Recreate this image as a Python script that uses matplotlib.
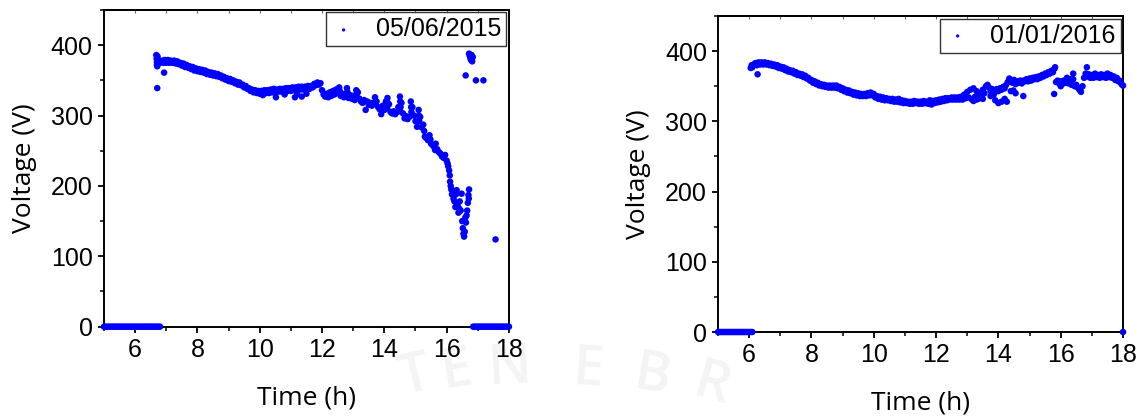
import matplotlib
matplotlib.use('Agg')
import matplotlib.pyplot as plt
from matplotlib.ticker import MultipleLocator

# ---- 05/06/2015 ----
# inverter off before sunrise
t15_night_am = [5.00, 5.05, 5.10, 5.15, 5.20, 5.25, 5.30, 5.35, 5.40, 5.45,
                5.50, 5.55, 5.60, 5.65, 5.70, 5.75, 5.80, 5.85, 5.90, 5.95,
                6.00, 6.05, 6.10, 6.15, 6.20, 6.25, 6.30, 6.35, 6.40, 6.45,
                6.50, 6.55, 6.60, 6.65, 6.70, 6.75, 6.80]
v15_night_am = [0, 0, 0, 0, 0, 0, 0, 0, 0, 0,
                0, 0, 0, 0, 0, 0, 0, 0, 0, 0,
                0, 0, 0, 0, 0, 0, 0, 0, 0, 0,
                0, 0, 0, 0, 0, 0, 0]

# start-up
t15_start = [6.68, 6.69, 6.70, 6.70, 6.71, 6.72, 6.73, 6.74, 6.71, 6.93]
v15_start = [386, 381, 376, 372, 370, 384, 379, 374, 339, 361]

# morning / midday
t15_day = [6.75, 6.80, 6.85, 6.90, 6.95, 7.00, 7.05, 7.10, 7.15, 7.20,
           7.25, 7.30, 7.35, 7.40, 7.45, 7.50, 7.55, 7.60, 7.65, 7.70,
           7.75, 7.80, 7.85, 7.90, 7.95, 8.00, 8.05, 8.10, 8.15, 8.20,
           8.25, 8.30, 8.35, 8.40, 8.45, 8.50, 8.55, 8.60, 8.65, 8.70,
           8.75, 8.80, 8.85, 8.90, 8.95, 9.00, 9.05, 9.10, 9.15, 9.20,
           9.25, 9.30, 9.35, 9.40, 9.45, 9.50, 9.55, 9.60, 9.65, 9.70,
           9.75, 9.80, 9.85, 9.90, 9.95, 10.00, 10.05, 10.10, 10.15, 10.20,
           10.25, 10.30, 10.35, 10.40, 10.45, 10.50, 10.55, 10.60, 10.65, 10.70,
           10.75, 10.80, 10.85, 10.90, 10.95, 11.00, 11.05, 11.10, 11.15, 11.20,
           11.25, 11.30, 11.35, 11.40, 11.45, 11.50, 11.55, 11.60, 11.65, 11.70,
           11.75, 11.80, 11.85, 11.90, 11.95]
v15_day = [378, 375, 378, 375, 379, 375, 379, 375, 378, 375,
           378, 374, 377, 373, 375, 371, 374, 369, 372, 368,
           370, 366, 369, 364, 367, 363, 366, 362, 365, 361,
           364, 359, 362, 358, 361, 357, 360, 356, 359, 355,
           357, 353, 355, 351, 353, 349, 352, 348, 350, 346,
           348, 344, 347, 343, 344, 340, 342, 338, 339, 335,
           337, 333, 336, 332, 335, 331, 335, 331, 336, 332,
           336, 332, 337, 333, 338, 333, 337, 334, 338, 334,
           338, 335, 339, 335, 339, 335, 340, 336, 340, 336,
           341, 337, 341, 337, 341, 338, 342, 338, 342, 340,
           345, 343, 347, 344, 346]
t15_low = [10.10, 10.52, 10.80, 11.13, 11.35, 11.50, 11.20]
v15_low = [329, 326, 330, 326, 327, 331, 330]

# afternoon, cloud transients
t15_pm = [12.00, 12.05, 12.10, 12.15, 12.20, 12.25, 12.30, 12.35, 12.40, 12.45,
          12.50, 12.55, 12.60, 12.65, 12.70, 12.75, 12.80, 12.85, 12.90, 12.95,
          13.00, 13.05, 13.10, 13.15, 13.20, 13.25, 13.30, 13.35, 13.40, 13.45,
          13.50, 13.55, 13.60, 13.65, 13.70, 13.75, 13.80, 13.85, 13.90, 13.95,
          14.00, 14.05, 14.10, 14.15, 14.20, 14.25, 14.30, 14.35, 14.40, 14.45,
          14.50, 14.55, 14.60, 14.65, 14.70, 14.75, 14.80, 14.85, 14.90, 14.95,
          15.00, 15.05, 15.10, 15.15, 15.20,
          12.56, 12.81, 13.11, 13.71, 14.11, 14.51, 14.52, 14.86, 14.87, 15.11,
          15.12, 14.51, 14.09]
v15_pm = [336, 330, 327, 331, 326, 333, 328, 335, 330, 337,
          332, 340, 328, 331, 326, 330, 339, 325, 329, 324,
          328, 322, 336, 333, 324, 320, 318, 322, 308, 320,
          315, 318, 314, 317, 326, 320, 312, 309, 302, 314,
          308, 320, 325, 316, 305, 303, 306, 302, 305, 312,
          327, 318, 303, 296, 299, 295, 298, 320, 312, 300,
          292, 284, 308, 298, 283,
          336, 334, 330, 320, 318, 320, 312, 312, 305, 300,
          292, 306, 310]

# evening drop
t15_eve = [15.25, 15.28, 15.30, 15.35, 15.40, 15.45, 15.48, 15.50, 15.55, 15.60,
           15.63, 15.65, 15.70, 15.75, 15.80, 15.85, 15.90, 15.95, 16.00, 16.03,
           16.05, 16.08, 16.10, 16.11, 16.13, 16.15, 16.17, 16.20, 16.22, 16.25,
           16.28, 16.30, 16.32, 16.35, 16.38, 16.40, 16.42, 16.45, 16.48, 16.50,
           16.52, 16.54, 16.56, 16.58, 16.60, 16.62, 16.64, 16.66, 16.68, 16.70,
           16.72, 16.71]
v15_eve = [287, 278, 270, 268, 265, 272, 266, 260, 258, 255,
           251, 260, 252, 248, 246, 242, 240, 244, 236, 232,
           228, 222, 215, 206, 200, 195, 188, 192, 182, 178,
           170, 188, 194, 172, 162, 168, 178, 165, 189, 150,
           140, 132, 128, 135, 155, 148, 158, 165, 176, 187,
           195, 182]

# open-circuit spikes at shutdown
t15_spike = [16.72, 16.74, 16.76, 16.78, 16.80, 16.82, 16.84, 16.61, 16.94, 17.18, 17.57]
v15_spike = [388, 385, 382, 379, 386, 377, 383, 357, 350, 350, 124]

t15_night_pm = [16.85, 16.90, 16.95, 17.00, 17.05, 17.10, 17.15, 17.20, 17.25, 17.30,
                17.35, 17.40, 17.45, 17.50, 17.55, 17.60, 17.65, 17.70, 17.75, 17.80,
                17.85, 17.90, 17.95, 18.00]
v15_night_pm = [0, 0, 0, 0, 0, 0, 0, 0, 0, 0,
                0, 0, 0, 0, 0, 0, 0, 0, 0, 0,
                0, 0, 0, 0]

# ---- 01/01/2016 ----
t16_night = [5.00, 5.05, 5.10, 5.15, 5.20, 5.25, 5.30, 5.35, 5.40, 5.45,
             5.50, 5.55, 5.60, 5.65, 5.70, 5.75, 5.80, 5.85, 5.90, 5.95,
             6.00, 6.05, 6.10, 18.00]
v16_night = [0, 0, 0, 0, 0, 0, 0, 0, 0, 0,
             0, 0, 0, 0, 0, 0, 0, 0, 0, 0,
             0, 0, 0, 0]

t16_start = [6.05, 6.08, 6.10, 6.27]
v16_start = [376, 380, 377, 367]

t16_day = [6.15, 6.20, 6.25, 6.30, 6.35, 6.40, 6.45, 6.50, 6.55, 6.60,
           6.65, 6.70, 6.75, 6.80, 6.85, 6.90, 6.95, 7.00, 7.05, 7.10,
           7.15, 7.20, 7.25, 7.30, 7.35, 7.40, 7.45, 7.50, 7.55, 7.60,
           7.65, 7.70, 7.75, 7.80, 7.85, 7.90, 7.95, 8.00, 8.05, 8.10,
           8.15, 8.20, 8.25, 8.30, 8.35, 8.40, 8.45, 8.50, 8.55, 8.60,
           8.65, 8.70, 8.75, 8.80, 8.85, 8.90, 8.95, 9.00, 9.05, 9.10,
           9.15, 9.20, 9.25, 9.30, 9.35, 9.40, 9.45, 9.50, 9.55, 9.60,
           9.65, 9.70, 9.75, 9.80, 9.85, 9.90, 9.95, 10.00, 10.05, 10.10,
           10.15, 10.20, 10.25, 10.30, 10.35, 10.40, 10.45, 10.50, 10.55, 10.60,
           10.65, 10.70, 10.75, 10.80, 10.85, 10.90, 10.95, 11.00, 11.05, 11.10,
           11.15, 11.20, 11.25, 11.30, 11.35, 11.40, 11.45, 11.50, 11.55, 11.60,
           11.65, 11.70, 11.75, 11.80, 11.85, 11.90, 11.95, 12.00, 12.05, 12.10,
           12.15, 12.20, 12.25, 12.30, 12.35, 12.40, 12.45, 12.50, 12.55, 12.60,
           12.65, 12.70, 12.75, 12.80, 12.85, 12.90, 12.95, 13.00, 13.05, 13.10,
           13.15, 13.20, 13.25, 13.30, 13.35, 13.40, 13.45, 13.50, 13.55, 13.60,
           13.65, 13.70, 13.75, 13.80, 13.85, 13.90, 13.95, 14.00, 14.05, 14.10,
           14.15, 14.20, 14.25, 14.30, 14.35, 14.40, 14.45, 14.50, 14.55, 14.60,
           14.65, 14.70, 14.75, 14.80, 14.85, 14.90, 14.95, 15.00, 15.05, 15.10,
           15.15, 15.20, 15.25, 15.30, 15.35, 15.40, 15.45, 15.50, 15.55, 15.60,
           15.65, 15.70, 15.75, 15.80, 15.82, 15.85, 15.90, 15.95, 16.00, 16.05,
           16.10, 16.15, 16.20, 16.25, 16.30, 16.35, 16.40, 16.45, 16.50, 16.55,
           16.60, 16.65, 16.70, 16.75, 16.80, 16.84, 16.85, 16.90, 16.95, 17.00,
           17.05, 17.10, 17.15, 17.20, 17.25, 17.30, 17.35, 17.40, 17.45, 17.50,
           17.55, 17.60, 17.65, 17.70, 17.75, 17.80, 17.85, 17.90, 17.95, 18.00]
v16_day = [381, 383, 380, 384, 381, 384, 381, 384, 381, 383,
           380, 382, 379, 381, 378, 380, 376, 378, 375, 377,
           373, 375, 371, 373, 370, 372, 368, 370, 366, 368,
           365, 367, 363, 365, 361, 362, 358, 359, 355, 357,
           353, 355, 351, 353, 350, 352, 349, 351, 348, 351,
           348, 351, 348, 351, 347, 349, 345, 347, 343, 345,
           341, 344, 340, 342, 338, 341, 337, 340, 336, 339,
           336, 339, 336, 340, 337, 341, 337, 339, 334, 336,
           332, 335, 331, 334, 330, 333, 330, 332, 329, 332,
           328, 331, 328, 332, 327, 330, 326, 329, 326, 328,
           325, 328, 325, 329, 326, 328, 325, 328, 325, 329,
           326, 328, 325, 330, 324, 329, 326, 330, 327, 331,
           328, 332, 329, 333, 330, 333, 331, 334, 331, 334,
           331, 334, 331, 335, 331, 338, 333, 342, 334, 345,
           331, 347, 335, 343, 332, 340, 336, 345, 340, 350,
           352, 348, 343, 346, 338, 342, 346, 343, 347, 345,
           349, 347, 352, 356, 361, 358, 355, 359, 353, 357,
           355, 358, 354, 358, 357, 360, 357, 361, 358, 362,
           360, 363, 360, 364, 362, 366, 364, 368, 366, 370,
           368, 372, 370, 375, 377, 356, 358, 354, 357, 353,
           358, 355, 362, 354, 360, 352, 368, 350, 352, 348,
           345, 342, 350, 362, 368, 377, 364, 367, 362, 366,
           362, 368, 363, 366, 362, 367, 363, 366, 362, 368,
           363, 366, 362, 364, 359, 362, 357, 358, 353, 351]
t16_low = [13.20, 13.30, 13.50, 13.75, 13.90, 14.00, 14.10, 14.27, 14.20,
           14.48, 14.55, 14.80, 15.79, 16.62, 16.00, 16.40, 14.40]
v16_low = [329, 331, 332, 336, 330, 326, 328, 328, 332,
           344, 340, 336, 339, 345, 350, 360, 343]

t_2015 = (t15_night_am + t15_start + t15_day + t15_low + t15_pm + t15_eve
          + t15_spike + t15_night_pm)
v_2015 = (v15_night_am + v15_start + v15_day + v15_low + v15_pm + v15_eve
          + v15_spike + v15_night_pm)
t_2016 = t16_night + t16_start + t16_day + t16_low
v_2016 = v16_night + v16_start + v16_day + v16_low

panels = [(t_2015, v_2015, '05/06/2015'), (t_2016, v_2016, '01/01/2016')]
positions = [[0.0908, 0.2147, 0.3537, 0.7613], [0.6271, 0.2019, 0.3537, 0.7596]]

tick_font = 'Liberation Sans'
label_font = 'Open Sans'

fig = plt.figure(figsize=(11.45, 4.16), dpi=100)

# faint seal lettering behind the plots
wm_letters = ['T', 'E', 'N', 'E', 'B', 'R']
wm_x = [415, 457, 510, 588, 652, 712]
wm_y = [378, 372, 369, 371, 377, 386]
wm_rot = [14, 9, 3, -4, -10, -16]
for ch, x, y, r in zip(wm_letters, wm_x, wm_y, wm_rot):
    fig.text(x / 1145, 1 - y / 416, ch, fontsize=40, family=label_font,
             fontweight='semibold', color='#f4f4f4', rotation=r,
             ha='center', va='center', zorder=-5)

for (t, v, lab), pos in zip(panels, positions):
    ax = fig.add_axes(pos)
    ax.scatter(t, v, s=22, color='#0000ff', edgecolors='none', label=lab,
               clip_on=False, zorder=3)
    ax.set_xlim(5, 18)
    ax.set_ylim(0, 450)
    ax.xaxis.set_major_locator(MultipleLocator(2))
    ax.xaxis.set_minor_locator(MultipleLocator(1))
    ax.yaxis.set_major_locator(MultipleLocator(100))
    ax.yaxis.set_minor_locator(MultipleLocator(50))
    ax.tick_params(which='major', direction='out', length=4, width=1.3,
                   labelsize=18, pad=4)
    ax.tick_params(which='minor', direction='out', length=3, width=1.1)
    for lbl in ax.get_xticklabels() + ax.get_yticklabels():
        lbl.set_family(tick_font)
    for sp in ax.spines.values():
        sp.set_linewidth(1.4)
    top = ax.secondary_xaxis('top')
    top.xaxis.set_major_locator(MultipleLocator(1))
    top.tick_params(direction='in', length=2, width=0.8, color='#666666',
                    labeltop=False)
    top.spines['top'].set_linewidth(1.4)

    ax.set_xlabel('Time (h)', fontsize=19, family=label_font, labelpad=17)
    ax.set_ylabel('Voltage (V)', fontsize=19, family=label_font, labelpad=10)
    leg = ax.legend(loc='upper right', borderaxespad=0.1, fancybox=False,
                    edgecolor='#333333', framealpha=1, borderpad=0.2,
                    handlelength=1.0, handletextpad=0.8, markerscale=0.5,
                    prop={'family': tick_font, 'size': 18})
    leg.get_frame().set_linewidth(1.0)

fig.savefig('out.png', dpi=100)
